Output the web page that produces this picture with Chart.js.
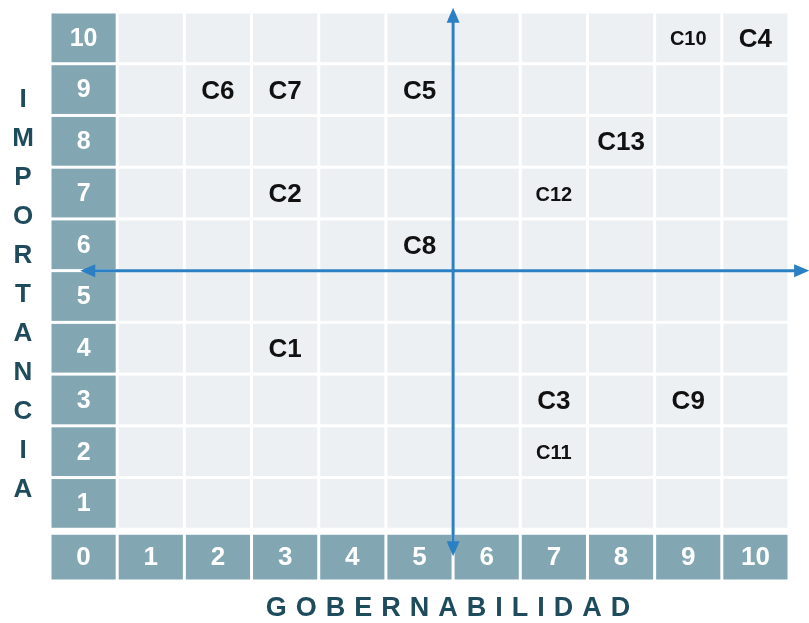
<!DOCTYPE html>
<html>
<head>
<meta charset="utf-8">
<script src="https://cdn.jsdelivr.net/npm/chart.js@4.4.1/dist/chart.umd.min.js"></script>
<style>
  html, body { margin: 0; padding: 0; background: #fff; }
  #wrap { width: 809px; height: 623px; }
</style>
</head>
<body>
<div id="wrap"><canvas id="matrix"></canvas></div>
<script>
// Scale labels
const xTicks = [0, 1, 2, 3, 4, 5, 6, 7, 8, 9, 10];
const yTicks = [1, 2, 3, 4, 5, 6, 7, 8, 9, 10];

// The variables placed in the matrix
const labels = ["C1", "C2", "C3", "C4", "C5", "C6", "C7", "C8", "C9", "C10", "C11", "C12", "C13"];
const gobernabilidad = [3, 3, 7, 10, 5, 2, 3, 5, 9, 9, 7, 7, 8];
const importancia = [4, 7, 3, 10, 9, 9, 9, 6, 3, 10, 2, 7, 8];
const smallLabels = ["C10", "C11", "C12"];

// Axis titles and the crossing arrows
const xTitle = "GOBERNABILIDAD";
const yTitle = "IMPORTANCIA";
const crossAt = { x: 5.5, y: 5.5 };
const vArrow = [-0.02, 10.58];
const hArrow = [-0.05, 10.8];

const teal = "#82a7b2";
const cellGray = "#edf0f3";
const arrowBlue = "#2b7fc3";
const titleColor = "#1f4c5c";

// Draw the cells of the grid through the scales
const gridCells = {
  id: "gridCells",
  beforeDatasetsDraw(chart) {
    const { ctx, scales: { x, y } } = chart;
    ctx.save();
    const rows = [0].concat(yTicks);
    xTicks.forEach((c) => {
      rows.forEach((r) => {
        const gap = 1.5;
        const left = x.getPixelForValue(c - 0.5) + gap;
        const right = x.getPixelForValue(c + 0.5) - gap;
        let top = y.getPixelForValue(r + 0.5) + gap;
        const bottom = y.getPixelForValue(r - 0.5) - gap;
        if (r === 0) top += 4;
        const isAxis = c === 0 || r === 0;
        ctx.fillStyle = isAxis ? teal : cellGray;
        ctx.fillRect(left, top, right - left, bottom - top);
        if (isAxis) {
          const txt = String(r === 0 ? c : r);
          ctx.fillStyle = "#fff";
          ctx.textAlign = "center";
          ctx.textBaseline = "middle";
          ctx.font = r === 0 ? "bold 26px 'Liberation Sans', Arial" : "bold 25px 'Liberation Sans', Arial";
          ctx.fillText(txt, (left + right) / 2, (top + bottom) / 2 + 1);
        }
      });
    });
    ctx.restore();
  },
};

function arrowHead(ctx, tx, ty, dx, dy) {
  const len = 15, half = 6.5;
  const bx = tx - dx * len, by = ty - dy * len;
  ctx.beginPath();
  ctx.moveTo(tx, ty);
  ctx.lineTo(bx - dy * half, by + dx * half);
  ctx.lineTo(bx + dy * half, by - dx * half);
  ctx.closePath();
  ctx.fill();
}

// Arrows, labels and axis titles
const overlay = {
  id: "overlay",
  afterDatasetsDraw(chart) {
    const { ctx, scales: { x, y } } = chart;
    ctx.save();
    // arrows
    ctx.strokeStyle = arrowBlue;
    ctx.fillStyle = arrowBlue;
    ctx.lineWidth = 3;
    const vx = x.getPixelForValue(crossAt.x);
    const vTop = y.getPixelForValue(vArrow[1]);
    const vBot = y.getPixelForValue(vArrow[0]);
    ctx.beginPath();
    ctx.moveTo(vx, vTop + 10);
    ctx.lineTo(vx, vBot - 10);
    ctx.stroke();
    arrowHead(ctx, vx, vTop, 0, -1);
    arrowHead(ctx, vx, vBot, 0, 1);
    const hy = y.getPixelForValue(crossAt.y);
    const hLeft = x.getPixelForValue(hArrow[0]);
    const hRight = x.getPixelForValue(hArrow[1]);
    ctx.beginPath();
    ctx.moveTo(hLeft + 10, hy);
    ctx.lineTo(hRight - 10, hy);
    ctx.stroke();
    arrowHead(ctx, hLeft, hy, -1, 0);
    arrowHead(ctx, hRight, hy, 1, 0);

    // point labels
    const meta = chart.getDatasetMeta(0);
    ctx.fillStyle = "#111";
    ctx.textAlign = "center";
    ctx.textBaseline = "middle";
    meta.data.forEach((pt, i) => {
      const small = smallLabels.includes(labels[i]);
      ctx.font = small ? "bold 20px 'Liberation Sans', Arial" : "bold 26px 'Liberation Sans', Arial";
      ctx.fillText(labels[i], pt.x, pt.y + 2);
    });

    // vertical title, one letter per line
    ctx.fillStyle = titleColor;
    ctx.font = "bold 26px 'Liberation Sans', Arial";
    const yStart = y.getPixelForValue(8.8);
    const yEnd = y.getPixelForValue(1.26);
    const step = (yEnd - yStart) / (yTitle.length - 1);
    yTitle.split("").forEach((ch, i) => {
      ctx.fillText(ch, 23, yStart + step * i);
    });

    // horizontal title with spaced letters
    ctx.font = "bold 27px 'Liberation Sans', Arial";
    ctx.letterSpacing = "9px";
    ctx.fillText(xTitle, 448 + 4.5, 609);
    ctx.restore();
  },
};

const config = {
  type: "scatter",
  data: {
    datasets: [
      {
        label: "Variables",
        data: labels.map((l, i) => ({ x: gobernabilidad[i], y: importancia[i] })),
        pointRadius: 0,
        pointHoverRadius: 0,
      },
    ],
  },
  options: {
    responsive: true,
    maintainAspectRatio: false,
    animation: false,
    layout: { padding: { left: 50, right: 20, top: 12, bottom: 42 } },
    scales: {
      x: { type: "linear", min: -0.5, max: 10.5, display: false },
      y: { type: "linear", min: -0.5, max: 10.5, display: false },
    },
    plugins: {
      legend: { display: false },
      tooltip: { enabled: false },
    },
  },
  plugins: [gridCells, overlay],
};

new Chart(document.getElementById("matrix"), config);
</script>
</body>
</html>
